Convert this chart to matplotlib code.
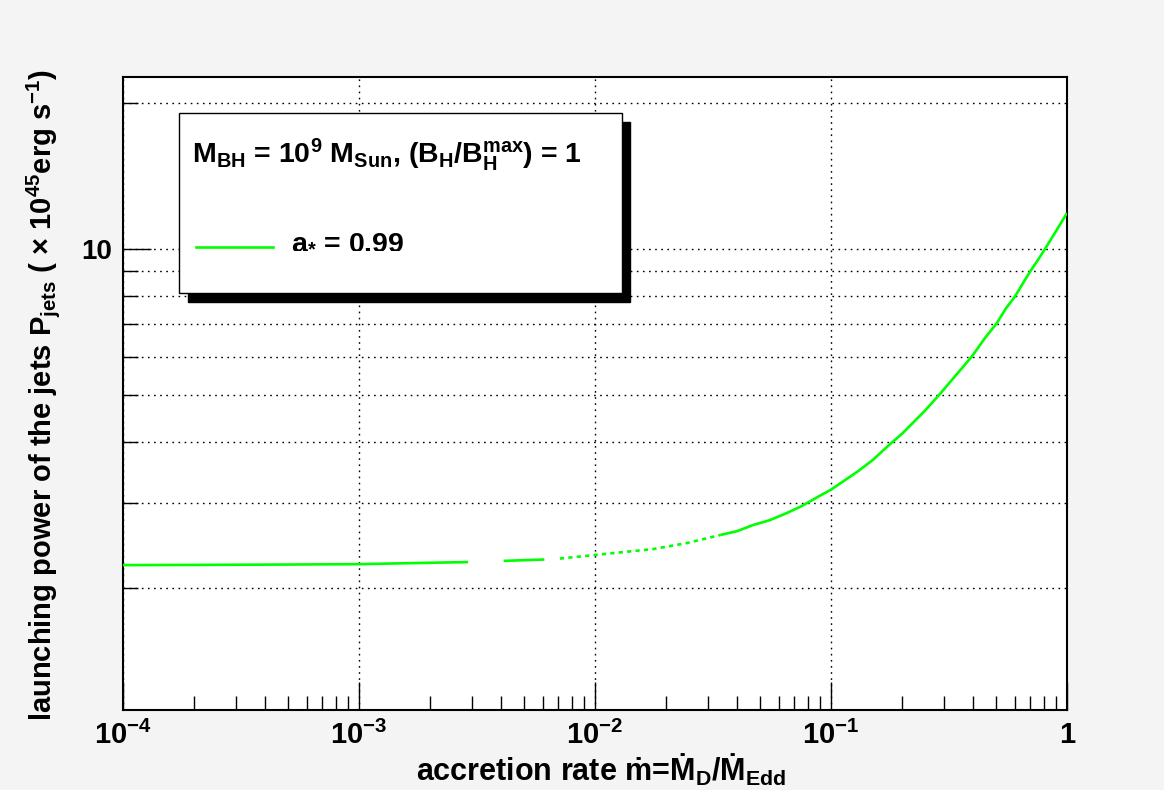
import matplotlib
matplotlib.use("Agg")

import numpy as np
from matplotlib import pyplot as plt
from matplotlib.patches import Rectangle
from matplotlib.ticker import FixedLocator, NullFormatter

# values (a* = 0.99)
mdot = np.array([1e-4, 2e-4, 5e-4, 1e-3, 2e-3, 2.9e-3, 4.1e-3, 6.1e-3, 7.1e-3,
                 1e-2, 1.76e-2, 2.45e-2, 3.39e-2, 4.0e-2, 4.67e-2, 5.5e-2,
                 6.51e-2, 7.5e-2, 8.98e-2, 0.1, 0.13, 0.15, 0.178, 0.2, 0.25,
                 0.29, 0.35, 0.395, 0.45, 0.504, 0.55, 0.602, 0.65, 0.697,
                 0.75, 0.807, 0.9, 1.0])
p_jets = np.array([2.23, 2.232, 2.236, 2.24, 2.255, 2.262, 2.275, 2.29, 2.30,
                   2.34, 2.406, 2.476, 2.572, 2.62, 2.697, 2.76,
                   2.856, 2.95, 3.10, 3.19, 3.48, 3.67, 3.96, 4.16, 4.64,
                   5.03, 5.60, 6.0, 6.56, 7.03, 7.53, 7.98, 8.49, 8.98,
                   9.46, 10.0, 10.9, 11.86])

x_ticks = [1e-4, 1e-3, 1e-2, 1e-1, 1]
x_ticklabels = [r"$10^{-4}$", r"$10^{-3}$", r"$10^{-2}$", r"$10^{-1}$", "1"]
y_major = [10]
y_minor = [2, 3, 4, 5, 6, 7, 8, 9, 20]

GREEN = "#00ff00"
W, H = 1164, 790

plt.rcParams.update({
    "font.family": ["Liberation Sans", "DejaVu Sans"],
    "font.weight": "bold",
    "mathtext.fontset": "custom",
    "mathtext.rm": "Liberation Sans:bold",
    "mathtext.it": "Liberation Sans:bold",
    "mathtext.bf": "Liberation Sans:bold",
    "mathtext.sf": "Liberation Sans:bold",
    "mathtext.default": "rm",
})

fig = plt.figure(figsize=(W / 100, H / 100), dpi=100, facecolor="#f4f4f4")
ax = fig.add_axes([123 / W, 1 - 710 / H, (1067 - 123) / W, (710 - 77) / H])
ax.set_facecolor("white")

ax.set_xscale("log")
ax.set_yscale("log")
ax.set_xlim(1e-4, 1)
ax.set_ylim(1.121, 22.62)

# the reference curve is drawn in pieces (gaps / dashes from sampling)
def piece(lo, hi):
    return (mdot >= lo) & (mdot <= hi)

kw = dict(color=GREEN, lw=1.9, solid_capstyle="butt", zorder=3)
for lo, hi in [(1e-4, 2.9e-3), (4.1e-3, 6.1e-3), (3.39e-2, 1.0)]:
    m = piece(lo, hi)
    ax.plot(mdot[m], p_jets[m], **kw)
m = piece(7.1e-3, 3.39e-2)
ax.plot(mdot[m], p_jets[m], dashes=(1.6, 1.6), **kw)

# axes / ticks in ROOT style
ax.xaxis.set_major_locator(FixedLocator(x_ticks))
ax.set_xticklabels(x_ticklabels)
ax.xaxis.set_minor_locator(FixedLocator(
    [k * 10.0 ** e for e in range(-4, 0) for k in range(2, 10)]))
ax.xaxis.set_minor_formatter(NullFormatter())
ax.yaxis.set_major_locator(FixedLocator(y_major))
ax.set_yticklabels(["10"])
ax.yaxis.set_minor_locator(FixedLocator(y_minor))
ax.yaxis.set_minor_formatter(NullFormatter())

ax.tick_params(which="both", direction="in", top=False, right=False, width=1)
ax.tick_params(axis="x", which="major", length=20, labelsize=21, pad=8)
ax.tick_params(axis="x", which="minor", length=10)
ax.tick_params(axis="y", which="major", length=20, labelsize=20, pad=8)
ax.tick_params(axis="y", which="minor", length=11)

grid_kw = dict(color="black", lw=1.0, dashes=(1.2, 3.2))
ax.grid(axis="x", which="major", **grid_kw)
ax.grid(axis="y", which="both", **grid_kw)
ax.set_axisbelow(False)
for s in ax.spines.values():
    s.set_linewidth(1.5)

# axis titles
fig.text(416 / W, 1 - 781 / H,
         "accretion rate \u1e41=\u1e40$_{D}$/\u1e40$_{Edd}$",
         fontsize=22, ha="left", va="baseline")
fig.text(51 / W, 1 - 721 / H,
         r"launching power of the jets P$_{jets}$ ( $\times$ 10$^{45}$erg s$^{-1}$)",
         fontsize=21, rotation=90, rotation_mode="anchor",
         ha="left", va="baseline")

# legend box with ROOT shadow
fig.patches.append(Rectangle((188 / W, 1 - 302 / H), 442 / W, 180 / H,
                             transform=fig.transFigure, facecolor="black",
                             edgecolor="black", zorder=5))
fig.patches.append(Rectangle((179 / W, 1 - 293 / H), 443 / W, 180 / H,
                             transform=fig.transFigure, facecolor="white",
                             edgecolor="black", lw=1.0, zorder=6))
fig.text(192 / W, 1 - 163 / H,
         r"M$_{BH}$ = 10$^{9}$ M$_{Sun}$, (B$_{H}$/B$_{H}^{max}$) = 1",
         fontsize=20.5, ha="left", va="baseline", zorder=7)
fig.add_artist(plt.Line2D([196 / W, 273 / W], [1 - 247 / H, 1 - 247 / H],
                          transform=fig.transFigure, color=GREEN, lw=1.9,
                          zorder=7))
fig.text(291 / W, 1 - 248 / H, r"a$_{*}$ = 0.99",
         fontsize=20.5, ha="left", va="baseline", zorder=7)

fig.savefig("out.png", dpi=100, facecolor=fig.get_facecolor())
plt.close(fig)
